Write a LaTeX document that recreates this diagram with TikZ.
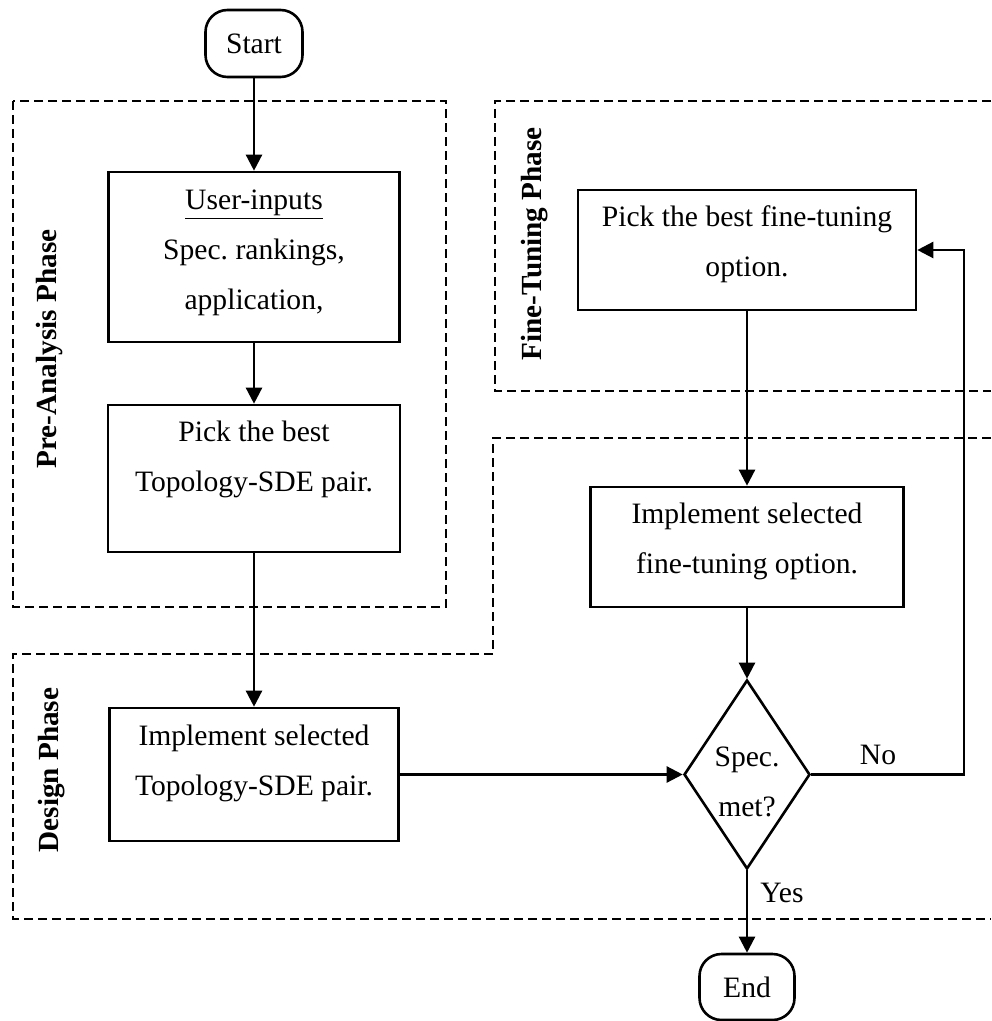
\documentclass[tikz,border=0pt]{standalone}
\usepackage{fontspec}
\setmainfont{Liberation Serif}
\usetikzlibrary{arrows.meta,shapes.geometric}
\frenchspacing
\begin{document}
\begin{tikzpicture}[x=0.5pt,y=-0.5pt,
  every node/.style={font=\fontsize{14.8}{25}\selectfont},
  box/.style={draw,line width=1.3pt,inner sep=0pt},
  term/.style={box,rounded corners=11pt},
  txt/.style={align=center,inner sep=0pt},
  phase/.style={font=\fontsize{14.6}{18}\selectfont\bfseries,rotate=90,inner sep=0pt},
  region/.style={line width=1.3pt,dash pattern=on 4.5pt off 2.5pt},
  flow/.style={line width=1.2pt,-{Triangle[length=8pt,width=8pt]}},
  ]
\useasboundingbox (0,0) rectangle (991,1021);

% phase regions
\draw[region] (13,101) rectangle (446,607);
\draw[region] (991,101) -- (495,101) -- (495,391) -- (991,391);
\draw[region] (991,438) -- (493,438) -- (493,654) -- (13,654) -- (13,919) -- (991,919);

\node[phase] (prelbl) at (50,349) {Pre-Analysis Phase};
\node[phase] (finelbl) at (535,244) {Fine-Tuning Phase};
\node[phase] (deslbl) at (52,770) {Design Phase};

% left column
\node[term,minimum width=48.5pt,minimum height=33.5pt] (start) at (254,43.5) {Start};
\node[box,minimum width=145.5pt,minimum height=85pt] (ui) at (254,257) {};
\node[txt] (uitxt) at (254,252.5) {\underline{User-inputs}\\Spec. rankings,\\application,};
\node[box,minimum width=146pt,minimum height=73.5pt] (pick) at (254,478.5) {};
\node[txt] (picktxt) at (254,459) {Pick the best\\Topology-SDE pair.};
\node[box,minimum width=144.5pt,minimum height=66.5pt] (impts) at (254,774.5) {};
\node[txt] (imptstxt) at (254,763) {Implement selected\\Topology-SDE pair.};

% right column
\node[box,minimum width=169pt,minimum height=60pt] (fpick) at (747,250) {};
\node[txt] (fpicktxt) at (747,244) {Pick the best fine-tuning\\option.};
\node[box,minimum width=156.5pt,minimum height=60pt] (ifine) at (747,547) {};
\node[txt] (ifinetxt) at (747,541) {Implement selected\\fine-tuning option.};
\node[box,diamond,minimum width=63pt,minimum height=94.5pt] (dia) at (747,774.5) {};
\node[txt] (diatxt) at (747,781.5) {Spec.\\met?};
\node[term,minimum width=47.5pt,minimum height=33pt] (end) at (747,987) {End};

% connectors
\draw[flow] (start) -- (ui);
\draw[flow] (ui) -- (pick);
\draw[flow] (pick) -- (impts);
\draw[flow] (impts) -- (dia);
\draw[flow] (fpick) -- (ifine);
\draw[flow] (ifine) -- (dia);
\draw[flow] (dia) -- (end);
\coordinate (fb) at (964,250);
\draw[flow] (dia.east) -| (fb) -- (fpick.east);

\node (no) at (878,755) {No};
\node (yes) at (782,893) {Yes};
\end{tikzpicture}
\end{document}
